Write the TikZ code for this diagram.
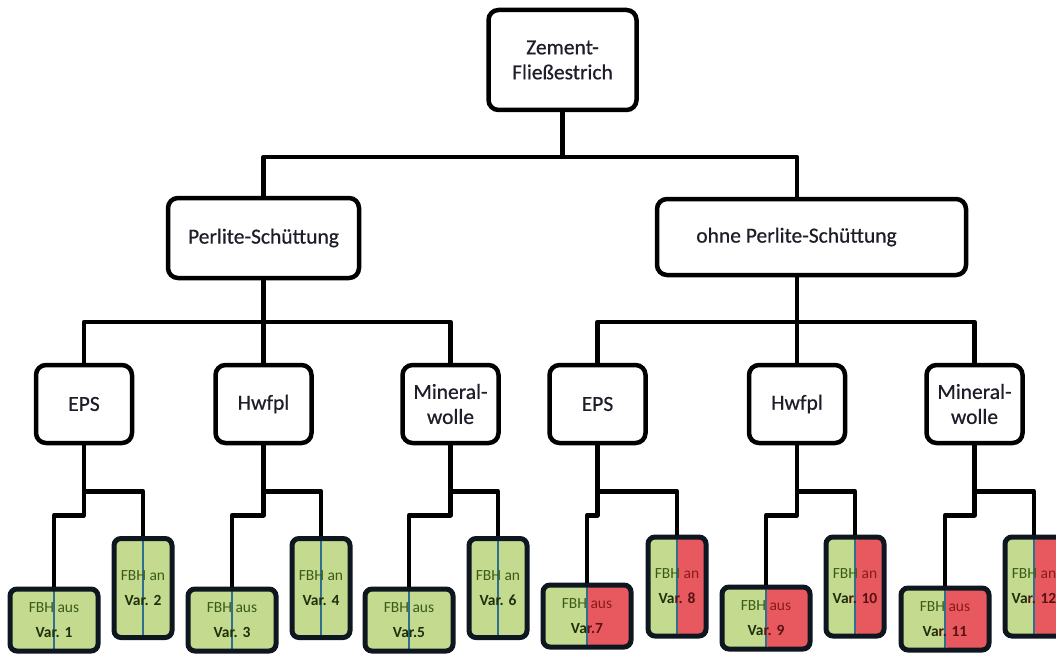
\documentclass[tikz,border=0pt]{standalone}
\usepackage{fontspec}
\setmainfont{Carlito}
\newfontfamily\boxfont[FakeBold=0.6]{Carlito}
\definecolor{leafgreen}{HTML}{C4DB8F}
\definecolor{leafred}{HTML}{E8595F}
\definecolor{divblue}{HTML}{2E6F8E}
\definecolor{leafborder}{HTML}{0E1620}
\definecolor{txtgreen}{HTML}{3A5A18}
\definecolor{txtdark}{HTML}{1F300C}
\definecolor{txtred}{HTML}{8B1A1A}
\definecolor{txtdred}{HTML}{5A1212}
\definecolor{boxtext}{HTML}{1E1E2A}
\tikzset{
  conn/.style={line width=4.5pt, line join=round},
  mainbox/.style={draw, line width=4.5pt, rounded corners=10pt, fill=white,
    align=center, inner sep=0pt, text=boxtext,
    font=\boxfont\fontsize{21.5}{25}\selectfont},
  midbox/.style={mainbox, minimum width=96pt, minimum height=78pt},
  leafbase/.style={draw=leafborder, line width=5pt, rounded corners=7pt,
    fill=leafgreen, align=center, inner sep=0pt,
    font=\fontsize{15.5}{25}\selectfont},
  leafg/.style={leafbase,
    path picture={\draw[divblue, line width=1.5pt]
      (path picture bounding box.north) -- (path picture bounding box.south);}},
  leafr/.style={leafbase,
    path picture={\fill[leafred] (path picture bounding box.north)
      rectangle (path picture bounding box.south east);
      \draw[divblue, line width=1.5pt]
      (path picture bounding box.north) -- (path picture bounding box.south);}},
  leafl/.style={minimum width=88pt, minimum height=62pt},
  leafh/.style={minimum width=58pt, minimum height=99pt},
}
\newcommand{\gtxt}[2]{{\color{txtgreen}#1}\\{\bfseries\color{txtdark}#2}}
\newcommand{\rtxt}[4]{{\color{txtgreen}#1} {\color{txtred}#2}\\{\bfseries\color{txtdark}#3\color{txtdred}#4}}
\begin{document}
\begin{tikzpicture}[x=1pt, y=-1pt]
\clip (0,0) rectangle (1056,655);
\fill[white] (0,0) rectangle (1056,655);

% level 1 and 2
\node[mainbox, minimum width=148pt, minimum height=100pt] (root) at (562.5,60) {Zement-\\Fließestrich};
\node[mainbox, minimum width=191pt, minimum height=80pt] (perl) at (263.5,238) {Perlite-Schüttung};
\node[mainbox, minimum width=309pt, minimum height=76pt] (ohne) at (811.5,237) {ohne Perlite-Schüttung\hspace*{30pt}};

% level 3
\node[midbox] (eps1) at (84,404) {EPS};
\node[midbox] (hw1) at (263.5,404) {Hwfpl};
\node[midbox] (min1) at (450.5,404) {Mineral-\\wolle};
\node[midbox] (eps2) at (597.5,404) {EPS};
\node[midbox] (hw2) at (797,404) {Hwfpl};
\node[midbox] (min2) at (974.5,404) {Mineral-\\wolle};

% level 4
\node[leafg, leafl] (v1) at (54,620) {\gtxt{FBH aus}{Var. 1}};
\node[leafg, leafh] (v2) at (143,588) {\gtxt{FBH an}{Var. 2}};
\node[leafg, leafl] (v3) at (232,620) {\gtxt{FBH aus}{Var. 3}};
\node[leafg, leafh] (v4) at (321,588) {\gtxt{FBH an}{Var. 4}};
\node[leafg, leafl] (v5) at (409,620) {\gtxt{FBH aus}{Var.5}};
\node[leafg, leafh] (v6) at (498,588) {\gtxt{FBH an}{Var. 6}};
\node[leafr, leafl] (v7) at (587,616) {\rtxt{FBH}{aus}{Va}{r.7}};
\node[leafr, leafh] (v8) at (677,586.5) {\rtxt{FBH}{an}{Va}{r. 8}};
\node[leafr, leafl] (v9) at (766,618) {\rtxt{FBH}{aus}{Va}{r. 9}};
\node[leafr, leafh] (v10) at (855,586.5) {\rtxt{FBH}{an}{Va}{r. 10}};
\node[leafr, leafl] (v11) at (945,619) {\rtxt{FBH}{aus}{Va}{r. 11}};
\node[leafr, leafh] (v12) at (1034,586.5) {\rtxt{FBH}{an}{Va}{r. 12}};

% connectors level 1 -> 2
\coordinate (j0) at (562.5,157);
\coordinate (oc) at (797,199);
\draw[conn] (root.south) -- (j0);
\draw[conn] (perl.north) |- (j0) -| (oc);

% level 2 -> 3
\coordinate (j1) at (263.5,322);
\draw[conn] (perl.south) -- (j1);
\draw[conn] (eps1.north) |- (j1) -| (min1.north);
\draw[conn] (hw1.north) -- (j1);
\coordinate (ob) at (797,275);
\coordinate (j2) at (797,322);
\draw[conn] (ob) -- (j2);
\draw[conn] (eps2.north) |- (j2) -| (min2.north);
\draw[conn] (hw2.north) -- (j2);

% level 3 -> 4
\foreach \b/\l/\r in {eps1/v1/v2, hw1/v3/v4, min1/v5/v6, eps2/v7/v8, hw2/v9/v10, min2/v11/v12}{
  \draw[conn] (\b.south) -- ++(0,46) coordinate (j\b) -| (\r.north);
  \draw[conn] (j\b) -- ++(0,24) -| (\l.north);
}
\end{tikzpicture}
\end{document}
